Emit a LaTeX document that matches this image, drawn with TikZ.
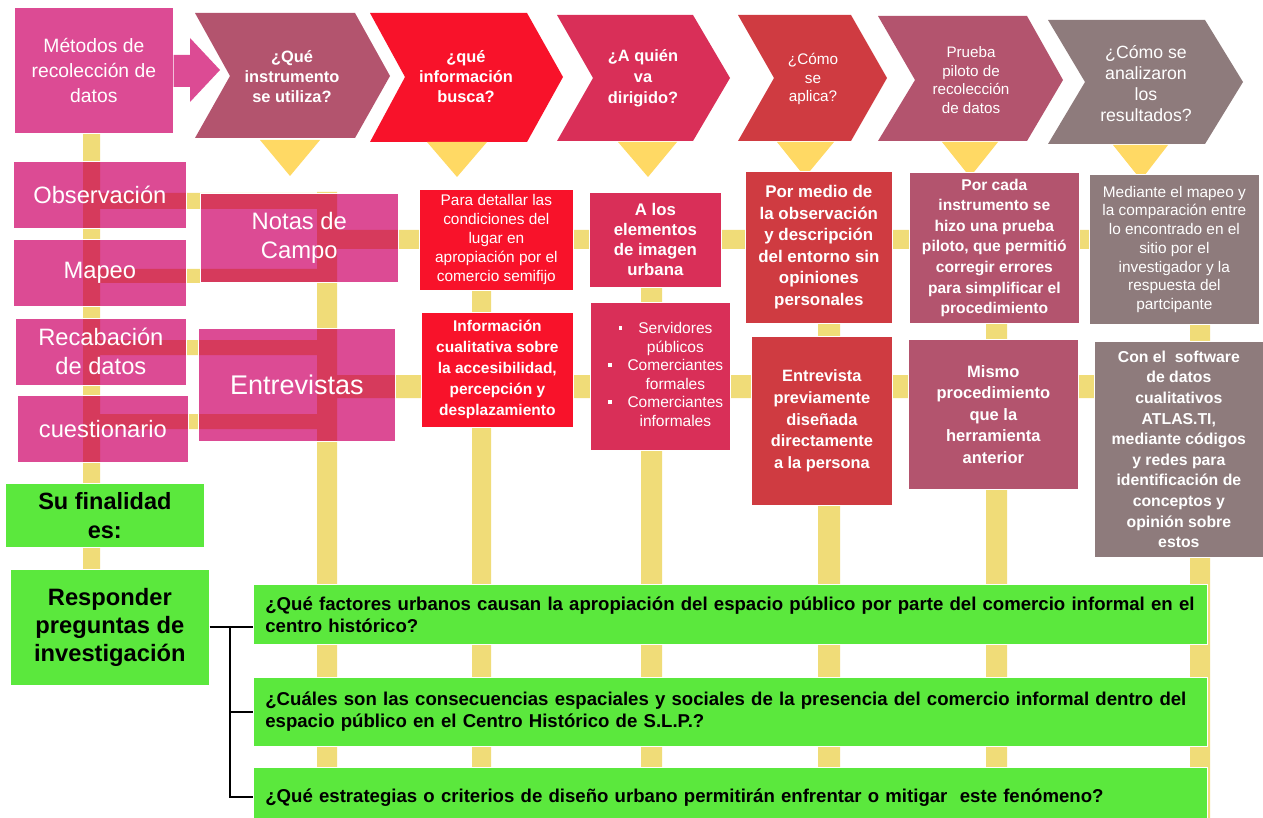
\documentclass[tikz,border=0pt]{standalone}
\usepackage{fontspec}
\setmainfont{Liberation Sans}

\definecolor{pinkc}{HTML}{DC4B94}
\definecolor{ovlc}{HTML}{D63A5C}
\definecolor{mauvec}{HTML}{B3546E}
\definecolor{redc}{HTML}{F8122A}
\definecolor{crimc}{HTML}{D92F58}
\definecolor{brickc}{HTML}{CF3B41}
\definecolor{greyc}{HTML}{8E7B7C}
\definecolor{greenc}{HTML}{5BE83D}
\definecolor{barc}{HTML}{F0DC78}
\definecolor{tric}{HTML}{FFD964}

\newcommand\fz[2]{\fontsize{#1}{#2}\selectfont}
% all yellow guide bars, filled in the given colour
\newcommand\barfill[1]{%
  \fill[#1] (lbA) rectangle (lbB)
    (hA1) rectangle (hB1) (hA2) rectangle (hB2) (hA3) rectangle (hB3) (hA4) rectangle (hB4)
    (rA1) rectangle (rB1) (rA2) rectangle (rB2)
    (cA1) rectangle (cB1) (cA2) rectangle (cB2) (cA3) rectangle (cB3)
    (cA4) rectangle (cB4) (cA5) rectangle (cB5) (cA6) rectangle (cB6);}
\newcommand\sqb{\llap{\rule[0.25em]{3.5pt}{3.5pt}\hspace{16pt}}}

\tikzset{
  sz/.style 2 args={minimum width=#1, minimum height=#2},
  cell/.style={draw=white, line width=0.7pt, inner sep=0pt, align=center,
    text=white, anchor=north west},
  pinkcell/.style={cell, fill=pinkc, path picture={\barfill{ovlc}}},
  greencell/.style={cell, fill=greenc, text=black},
  qcell/.style={greencell, align=left, text width=930pt, inner xsep=12pt,
    font=\bfseries\fz{18.6}{22}},
  chevtext/.style={text=white, align=center, inner sep=0pt},
  conn/.style={draw=black, line width=2pt},
}

\begin{document}
\begin{tikzpicture}[x=1pt,y=-1pt]
\useasboundingbox (0,0) rectangle (1263,818);
\fill[white] (0,0) rectangle (1263,818);

% guide bar geometry
\coordinate (lbA) at (83,133);  \coordinate (lbB) at (100,569);
\coordinate (hA1) at (83,193);  \coordinate (hB1) at (337,209);
\coordinate (hA2) at (83,269);  \coordinate (hB2) at (337,283);
\coordinate (hA3) at (83,340);  \coordinate (hB3) at (337,355);
\coordinate (hA4) at (83,414);  \coordinate (hB4) at (337,429);
\coordinate (rA1) at (317,230); \coordinate (rB1) at (1090,249);
\coordinate (rA2) at (317,375); \coordinate (rB2) at (1094,398);
\coordinate (cA1) at (317,192); \coordinate (cB1) at (337,818);
\coordinate (cA2) at (472,240); \coordinate (cB2) at (491,818);
\coordinate (cA3) at (641,240); \coordinate (cB3) at (662,818);
\coordinate (cA4) at (818,240); \coordinate (cB4) at (840,818);
\coordinate (cA5) at (986,240); \coordinate (cB5) at (1007,818);
\coordinate (cA6) at (1190,240);\coordinate (cB6) at (1210,818);
\barfill{barc}

% header chevrons
\fill[mauvec] (195,13) -- (355,13) -- (390,76) -- (355,138) -- (195,138) -- (230,76) -- cycle;
\fill[redc]   (370,13) -- (527,13) -- (563,77) -- (527,142) -- (370,142) -- (405,77) -- cycle;
\fill[crimc]  (557,15) -- (693,15) -- (730,78) -- (693,141) -- (557,141) -- (593,78) -- cycle;
\fill[brickc] (738,15) -- (851,15) -- (887,78) -- (851,141) -- (738,141) -- (774,78) -- cycle;
\fill[mauvec] (878,16) -- (1027,16) -- (1063,80) -- (1027,141) -- (878,141) -- (915,80) -- cycle;
\fill[greyc]  (1048,20) -- (1205,20) -- (1243,82) -- (1205,144) -- (1048,144) -- (1085,82) -- cycle;

\node[chevtext, font=\bfseries\fz{16.4}{20}] (ch1) at (292,77) {¿Qué\\instrumento\\se utiliza?};
\node[chevtext, font=\bfseries\fz{16.4}{20}] (ch2) at (466,77) {¿qué\\información\\busca?};
\node[chevtext, font=\bfseries\fz{16.4}{21}] (ch3) at (643,78) {¿A quién\\va\\dirigido?};
\node[chevtext, font=\fz{15.3}{18.5}] (ch4) at (813,79) {¿Cómo\\se\\aplica?};
\node[chevtext, font=\fz{15.2}{18.7}] (ch5) at (971,80) {Prueba\\piloto de\\recolección\\de datos};
\node[chevtext, font=\fz{17.7}{21}] (ch6) at (1146,84) {¿Cómo se\\analizaron\\los\\resultados?};

% pointers under the chevrons
\fill[tric] (260,140) -- (320,140) -- (290,176) -- cycle;
\fill[tric] (427,142) -- (487,142) -- (457,177) -- cycle;
\fill[tric] (618,142) -- (677,142) -- (648,177) -- cycle;
\fill[tric] (777,142) -- (834,142) -- (805,177) -- cycle;
\fill[tric] (942,142) -- (998,142) -- (970,177) -- cycle;
\fill[tric] (1113,145) -- (1168,145) -- (1141,180) -- cycle;

% methods column
\node[cell, fill=pinkc, sz={159}{126}, font=\fz{19.3}{25}] (met) at (14,7)
  {Métodos de\\recolección de\\datos};
\fill[pinkc] (met.east |- 0,55) -- (190,55) -- (190,38) -- (220,70) -- (190,102) -- (190,87)
  -- (met.east |- 0,87) -- cycle;
\node[pinkcell, sz={173}{67}, font=\fz{23.7}{29}] (obs) at (13,161) {Observación};
\node[pinkcell, sz={173}{67}, font=\fz{23.7}{29}] (map) at (13,239) {Mapeo};
\node[pinkcell, sz={171}{67}, font=\fz{23.7}{29}] (rec) at (15,318) {Recabación\\de datos};
\node[pinkcell, sz={171}{67}, font=\fz{23.7}{29}] (cue) at (17,395) {cuestionario};
\node[pinkcell, sz={198}{89}, font=\fz{23.8}{29}] (nc) at (200,193) {Notas de\\Campo};
\node[pinkcell, sz={197}{113}, font=\fz{27}{32}] (ent) at (198,328) {Entrevistas};

% information sought
\node[cell, fill=redc, sz={154}{101}, font=\fz{15.4}{19}] (c2a) at (419,189)
  {Para detallar las\\condiciones del\\lugar en\\apropiación por el\\comercio semifijo};
\node[cell, fill=redc, sz={152}{115}, font=\bfseries\fz{15.5}{21}] (c2b) at (421,312)
  {Información\\cualitativa sobre\\la accesibilidad,\\percepción y\\desplazamiento};

% addressees
\node[cell, fill=crimc, sz={132}{95}, font=\bfseries\fz{16.8}{20}] (c3a) at (589,192)
  {A los\\elementos\\de imagen\\urbana};
\node[cell, fill=crimc, sz={140}{148}, font=\fz{15.5}{18.5}] (c3b) at (590,302)
  {\begin{tabular}{@{\hspace{30pt}}c@{}}
   \sqb Servidores\\ públicos\\ \sqb Comerciantes\\ formales\\ \sqb Comerciantes\\ informales
   \end{tabular}};

% application
\node[cell, fill=brickc, sz={147}{152}, font=\bfseries\fz{16.9}{21.5}] (c4a) at (745,171)
  {Por medio de\\la observación\\y descripción\\del entorno sin\\opiniones\\personales};
\node[cell, fill=brickc, sz={141}{169}, font=\bfseries\fz{16.4}{21.7}] (c4b) at (751,336)
  {Entrevista\\previamente\\diseñada\\directamente\\a la persona};

% pilot test
\node[cell, fill=mauvec, sz={170}{151}, font=\bfseries\fz{15.6}{20.6}] (c5a) at (909,172)
  {Por cada\\instrumento se\\hizo una prueba\\piloto, que permitió\\corregir errores\\para simplificar el\\procedimiento};
\node[cell, fill=mauvec, sz={170}{150}, font=\bfseries\fz{16.5}{21.5}] (c5b) at (908,339)
  {Mismo\\procedimiento\\que la\\herramienta\\anterior};

% analysis
\node[cell, fill=greyc, sz={170}{150}, font=\fz{15.4}{18.7}] (c6a) at (1089,174)
  {Mediante el mapeo y\\la comparación entre\\lo encontrado en el\\sitio por el\\investigador y la\\respuesta del\\partcipante};
\node[cell, fill=greyc, sz={169}{216}, font=\bfseries\fz{15.8}{20.6}] (c6b) at (1094,341)
  {Con el\ \ software\\de datos\\cualitativos\\ATLAS.TI,\\mediante códigos\\y redes para\\identificación de\\conceptos y\\opinión sobre\\estos};

% purpose and research questions
\node[greencell, sz={199}{64}, font=\bfseries\fz{23.5}{29}] (fin) at (5,483) {Su finalidad\\es:};
\node[greencell, sz={199}{116}, font=\bfseries\fz{23.7}{28}] (resp) at (10,569)
  {Responder\\preguntas de\\investigación};
\node[qcell, minimum height=60] (q1) at (253,584)
  {\mbox{¿Qué factores urbanos causan la apropiación del espacio público por parte del comercio informal en el}\\centro histórico?};
\node[qcell, minimum height=69] (q2) at (253,677)
  {\mbox{¿Cuáles son las consecuencias espaciales y sociales de la presencia del comercio informal dentro del}\\espacio público en el Centro Histórico de S.L.P.?};
\node[qcell, minimum height=60] (q3) at (253,767)
  {\mbox{¿Qué estrategias o criterios de diseño urbano permitirán enfrentar o mitigar\ \ este fenómeno?}};

% bracket linking the purpose to the questions
\coordinate (sp) at (230,627);
\draw[conn] (resp.east) -- (resp.east -| q1.west);
\draw[conn] (sp) |- (q2.west);
\draw[conn] (sp) |- (q3.west);
\end{tikzpicture}
\end{document}
